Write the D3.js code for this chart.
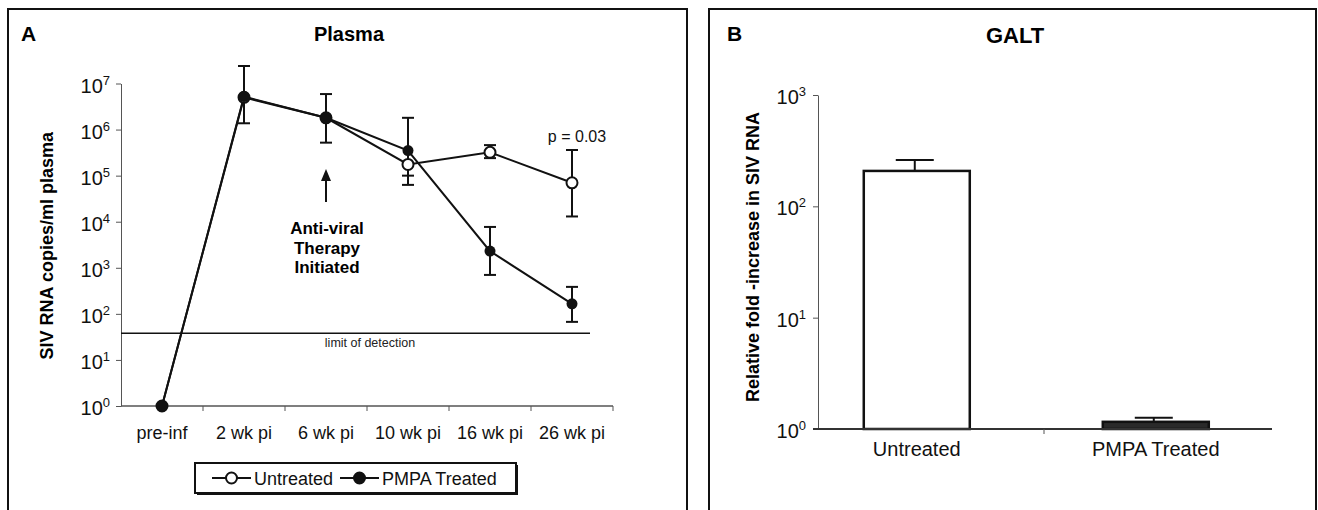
<!DOCTYPE html>
<html>
<head>
<meta charset="utf-8">
<script src="https://cdn.jsdelivr.net/npm/d3@7"></script>
<style>
body { margin: 0; background: #fff; }
svg { display: block; font-family: "Liberation Sans", Arial, sans-serif; }
</style>
</head>
<body>
<script>
// Panel A - plasma viral load
const timepoints = ['pre-inf', '2 wk pi', '6 wk pi', '10 wk pi', '16 wk pi', '26 wk pi'];
const untreated = [1, 5.0e6, 1.8e6, 1.75e5, 3.2e5, 7.0e4];
const untreatedLow = [null, null, null, 1.0e5, 2.4e5, 1.3e4];
const untreatedHigh = [null, null, null, null, 4.6e5, 3.6e5];
const treated = [1, 5.2e6, 1.8e6, 3.5e5, 2.3e3, 165];
const treatedLow = [null, 1.37e6, 5.2e5, 6.3e4, 700, 67];
const treatedHigh = [null, 2.4e7, 5.9e6, 1.8e6, 7.7e3, 385];
const detectionLimit = 38;
const plasmaExponents = [0, 1, 2, 3, 4, 5, 6, 7];

// Panel B - GALT
const galtGroups = ['Untreated', 'PMPA Treated'];
const galtFold = [208, 1.16];
const galtErr = [261, 1.26];
const galtExponents = [0, 1, 2, 3];

const svg = d3.select('body').append('svg')
	.attr('width', 1318)
	.attr('height', 510);

// panel frames
svg.append('rect').attr('x', 8).attr('y', 9).attr('width', 679).attr('height', 520)
	.attr('fill', 'none').attr('stroke', '#111').attr('stroke-width', 2);
svg.append('rect').attr('x', 709).attr('y', 9).attr('width', 607).attr('height', 520)
	.attr('fill', 'none').attr('stroke', '#111').attr('stroke-width', 2);

function powLabel(g, exp, x, y) {
	const t = g.append('text')
		.attr('x', x).attr('y', y)
		.attr('text-anchor', 'end')
		.attr('font-size', '20px')
		.attr('fill', '#111');
	t.append('tspan').text('10');
	t.append('tspan').attr('dy', -8).attr('font-size', '13px').text(exp);
}

// ---------- Panel A ----------
const a = svg.append('g');
const xA = d3.scaleBand().domain(timepoints).range([121, 613]);
const yA = d3.scaleLog().domain([1, 1e7]).range([406, 83.5]);
const cx = i => xA(timepoints[i]) + xA.bandwidth() / 2;

a.append('text').attr('x', 21).attr('y', 41).attr('font-size', '21px').attr('font-weight', 'bold').text('A');
a.append('text').attr('x', 349).attr('y', 41).attr('text-anchor', 'middle')
	.attr('font-size', '20px').attr('font-weight', 'bold').text('Plasma');

a.append('text')
	.attr('transform', `translate(47,${(yA(1) + yA(1e7)) / 2 + 1}) rotate(-90)`)
	.attr('text-anchor', 'middle').attr('dominant-baseline', 'central')
	.attr('font-size', '18px').attr('font-weight', 'bold')
	.text('SIV RNA copies/ml plasma');

a.append('g')
	.attr('transform', `translate(${xA.range()[0]},0)`)
	.call(d3.axisLeft(yA).tickValues(plasmaExponents.map(e => Math.pow(10, e))).tickFormat('').tickSize(5).tickSizeOuter(0))
	.call(g => g.selectAll('path,line').attr('stroke', '#555'));
plasmaExponents.forEach(e => powLabel(a, e, 110, yA(Math.pow(10, e)) + 9));

// x axis with ticks at category boundaries
const xAxisA = a.append('g').attr('transform', `translate(0,${yA(1)})`);
xAxisA.append('line').attr('x1', xA.range()[0]).attr('x2', xA.range()[1])
	.attr('stroke', '#555').attr('stroke-width', 1.5);
xAxisA.selectAll('.bt').data(timepoints).enter().append('line')
	.attr('x1', d => xA(d) + xA.bandwidth()).attr('x2', d => xA(d) + xA.bandwidth())
	.attr('y1', 0).attr('y2', 5).attr('stroke', '#555');
xAxisA.selectAll('.lbl').data(timepoints).enter().append('text')
	.attr('x', (d, i) => cx(i)).attr('y', 33)
	.attr('text-anchor', 'middle').attr('font-size', '18px').attr('fill', '#111')
	.text(d => d);

// limit of detection
a.append('line').attr('x1', xA.range()[0]).attr('x2', 590)
	.attr('y1', yA(detectionLimit)).attr('y2', yA(detectionLimit))
	.attr('stroke', '#111').attr('stroke-width', 1.5);
a.append('text').attr('x', 370).attr('y', yA(detectionLimit) + 14)
	.attr('text-anchor', 'middle').attr('font-size', '12.5px').attr('fill', '#222')
	.text('limit of detection');

const line = d3.line().x((d, i) => cx(i)).y(d => yA(d));
function errorBars(vals, lows, highs) {
	vals.forEach((v, i) => {
		if (lows[i] == null && highs[i] == null) return;
		const top = highs[i] == null ? v : highs[i];
		const bot = lows[i] == null ? v : lows[i];
		a.append('line').attr('x1', cx(i)).attr('x2', cx(i))
			.attr('y1', yA(top)).attr('y2', yA(bot))
			.attr('stroke', '#111').attr('stroke-width', 2);
		[lows[i], highs[i]].forEach(e => {
			if (e == null) return;
			a.append('line').attr('x1', cx(i) - 6).attr('x2', cx(i) + 6)
				.attr('y1', yA(e)).attr('y2', yA(e))
				.attr('stroke', '#111').attr('stroke-width', 2);
		});
	});
}

a.append('path').attr('d', line(untreated)).attr('fill', 'none').attr('stroke', '#111').attr('stroke-width', 2);
a.append('path').attr('d', line(treated)).attr('fill', 'none').attr('stroke', '#111').attr('stroke-width', 2);
errorBars(untreated, untreatedLow, untreatedHigh);
errorBars(treated, treatedLow, treatedHigh);

a.selectAll('.uo').data(untreated).enter().append('circle')
	.attr('cx', (d, i) => cx(i)).attr('cy', d => yA(d)).attr('r', 5.5)
	.attr('fill', '#fff').attr('stroke', '#111').attr('stroke-width', 2);
a.selectAll('.tf').data(treated).enter().append('circle')
	.attr('cx', (d, i) => cx(i)).attr('cy', d => yA(d)).attr('r', 5.5)
	.attr('fill', '#111');

// therapy arrow + text
const ax = cx(2);
a.append('line').attr('x1', ax).attr('x2', ax).attr('y1', 202).attr('y2', 178)
	.attr('stroke', '#111').attr('stroke-width', 2);
a.append('path').attr('d', `M${ax},169 L${ax - 5},181 L${ax + 5},181 Z`).attr('fill', '#111');
['Anti-viral', 'Therapy', 'Initiated'].forEach((s, i) => {
	a.append('text').attr('x', ax + 1).attr('y', 234 + i * 19.5)
		.attr('text-anchor', 'middle').attr('font-size', '17px').attr('font-weight', 'bold')
		.text(s);
});

a.append('text').attr('x', 577).attr('y', 142).attr('text-anchor', 'middle')
	.attr('font-size', '16px').attr('fill', '#111').text('p = 0.03');

// legend
const lg = a.append('g');
lg.append('rect').attr('x', 197).attr('y', 465).attr('width', 321).attr('height', 30).attr('fill', '#111');
lg.append('rect').attr('x', 195).attr('y', 463).attr('width', 321).attr('height', 30)
	.attr('fill', '#fff').attr('stroke', '#111').attr('stroke-width', 2);
[{ x: 212, label: 'Untreated', fill: '#fff' }, { x: 340, label: 'PMPA Treated', fill: '#111' }].forEach(it => {
	lg.append('line').attr('x1', it.x).attr('x2', it.x + 39).attr('y1', 478).attr('y2', 478)
		.attr('stroke', '#111').attr('stroke-width', 2);
	lg.append('circle').attr('cx', it.x + 19.5).attr('cy', 478).attr('r', 5.5)
		.attr('fill', it.fill).attr('stroke', '#111').attr('stroke-width', 2);
	lg.append('text').attr('x', it.x + 42).attr('y', 484.5)
		.attr('font-size', '18px').attr('fill', '#111').text(it.label);
});

// ---------- Panel B ----------
const b = svg.append('g');
const xB = d3.scaleBand().domain(galtGroups).range([818, 1272])
	.paddingInner(0.5565).paddingOuter(0.228).align(0.42);
const yB = d3.scaleLog().domain([1, 1000]).range([429, 95]);

b.append('text').attr('x', 727).attr('y', 41).attr('font-size', '21px').attr('font-weight', 'bold').text('B');
b.append('text').attr('x', 1015).attr('y', 43).attr('text-anchor', 'middle')
	.attr('font-size', '22px').attr('font-weight', 'bold').text('GALT');

b.append('text')
	.attr('transform', `translate(753,257) rotate(-90)`)
	.attr('text-anchor', 'middle').attr('dominant-baseline', 'central')
	.attr('font-size', '18px').attr('font-weight', 'bold')
	.text('Relative fold -increase in SIV RNA');

b.append('g')
	.attr('transform', 'translate(818,0)')
	.call(d3.axisLeft(yB).tickValues(galtExponents.map(e => Math.pow(10, e))).tickFormat('').tickSize(5).tickSizeOuter(0))
	.call(g => g.selectAll('path,line').attr('stroke', '#555'));
galtExponents.forEach(e => powLabel(b, e, 806, yB(Math.pow(10, e)) + 9));

b.selectAll('.bar').data(galtGroups).enter().append('rect')
	.attr('x', d => xB(d)).attr('width', xB.bandwidth())
	.attr('y', (d, i) => yB(galtFold[i]))
	.attr('height', (d, i) => yB(1) - yB(galtFold[i]))
	.attr('fill', (d, i) => i === 0 ? '#fff' : '#2a2a2a')
	.attr('stroke', '#111').attr('stroke-width', 2.5);

galtGroups.forEach((g, i) => {
	const mx = xB(g) + xB.bandwidth() / 2 - 2;
	b.append('line').attr('x1', mx).attr('x2', mx)
		.attr('y1', yB(galtFold[i])).attr('y2', yB(galtErr[i]))
		.attr('stroke', '#111').attr('stroke-width', 2);
	b.append('line').attr('x1', mx - 19).attr('x2', mx + 19)
		.attr('y1', yB(galtErr[i])).attr('y2', yB(galtErr[i]))
		.attr('stroke', '#111').attr('stroke-width', 2);
});

const xAxisB = b.append('g').attr('transform', `translate(0,${yB(1)})`);
xAxisB.append('line').attr('x1', 813).attr('x2', 1272).attr('stroke', '#333').attr('stroke-width', 2);
xAxisB.append('line').attr('x1', 1044).attr('x2', 1044).attr('y1', 0).attr('y2', 5).attr('stroke', '#555');
xAxisB.selectAll('.lbl').data(galtGroups).enter().append('text')
	.attr('x', d => xB(d) + xB.bandwidth() / 2).attr('y', 27)
	.attr('text-anchor', 'middle').attr('font-size', '20px').attr('fill', '#111')
	.text(d => d);
</script>
</body>
</html>
